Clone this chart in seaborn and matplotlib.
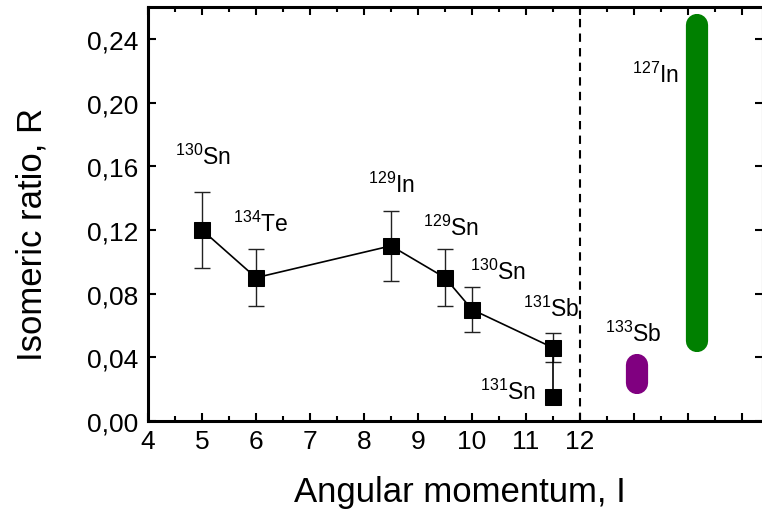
import matplotlib
matplotlib.use("Agg")
import matplotlib.pyplot as plt
import seaborn as sns
import pandas as pd
from matplotlib.ticker import MultipleLocator, FixedLocator

# ---- data ----
nuclides = ["130Sn", "134Te", "129In", "129Sn", "130Sn", "131Sb", "131Sn"]
spin = [5, 6, 8.5, 9.5, 10, 11.5, 11.5]
ratio = [0.120, 0.090, 0.110, 0.090, 0.070, 0.046, 0.015]
ratio_err = [0.024, 0.018, 0.022, 0.018, 0.014, 0.009, 0.0]

# ranges shown as thick bars (no spin value)
range_names = ["133Sb", "127In"]
range_x = [13.05, 14.16]
range_low = [0.024, 0.050]
range_high = [0.035, 0.249]
range_colors = ["#800080", "#008000"]

# label anchor positions (data coords, left/baseline)
label_x = [4.50, 5.57, 8.07, 9.09, 9.96, 10.94, 10.15]
label_y = [0.1614, 0.1193, 0.1438, 0.1168, 0.0892, 0.0659, 0.0138]
range_label_x = [12.46, 12.96]
range_label_y = [0.0502, 0.2129]

y_ticks = [0.00, 0.04, 0.08, 0.12, 0.16, 0.20, 0.24]
y_ticklabels = ["0,00", "0,04", "0,08", "0,12", "0,16", "0,20", "0,24"]
x_ticks = [4, 5, 6, 7, 8, 9, 10, 11, 12, 13, 14, 15]
x_ticklabels = ["4", "5", "6", "7", "8", "9", "10", "11", "12", "", "", ""]
boundary_x = 12

df = pd.DataFrame({"I": spin, "R": ratio, "err": ratio_err, "name": nuclides})

sns.set_style("ticks")
plt.rcParams["font.family"] = ["Liberation Sans", "DejaVu Sans"]
plt.rcParams["mathtext.fontset"] = "custom"
plt.rcParams["mathtext.rm"] = "Liberation Sans"
plt.rcParams["mathtext.it"] = "Liberation Sans:italic"
plt.rcParams["mathtext.bf"] = "Liberation Sans:bold"
for key in ["text.color", "axes.labelcolor", "xtick.color", "ytick.color", "axes.edgecolor"]:
    plt.rcParams[key] = "black"

fig = plt.figure(figsize=(7.62, 5.10), dpi=100)
ax = fig.add_axes([148 / 762, 1 - 422 / 510, 615 / 762, 414 / 510])

# error bars
err_df = df[df["err"] > 0]
ax.errorbar(err_df["I"], err_df["R"], yerr=err_df["err"], fmt="none",
            ecolor="#222222", elinewidth=1.0, capsize=6, capthick=1.0, zorder=2)

# connecting line + square markers
sns.lineplot(data=df, x="I", y="R", sort=False, estimator=None, ax=ax,
             color="black", linewidth=1.2, marker="s", markersize=11,
             markeredgecolor="black", markerfacecolor="black", zorder=3)

# range bars
for xv, lo, hi, c in zip(range_x, range_low, range_high, range_colors):
    ax.plot([xv, xv], [lo, hi], color=c, linewidth=16, solid_capstyle="round", zorder=2)

# dashed boundary
ax.axvline(boundary_x, color="black", linewidth=1.5, linestyle=(0, (4, 3)), zorder=1)

# labels
def sup_label(name):
    num = "".join(ch for ch in name if ch.isdigit())
    sym = "".join(ch for ch in name if not ch.isdigit())
    return r"$^{\mathrm{" + num + "}}$" + sym

for n, lx, ly in zip(nuclides, label_x, label_y):
    ax.text(lx, ly, sup_label(n), fontsize=16.5, ha="left", va="baseline", color="black")
for n, lx, ly in zip(range_names, range_label_x, range_label_y):
    ax.text(lx, ly, sup_label(n), fontsize=16.5, ha="left", va="baseline", color="black")

ax.set_xlim(4, 4 + 615 / 54)
ax.set_ylim(0, 0.26)

ax.xaxis.set_major_locator(FixedLocator(x_ticks))
ax.set_xticklabels(x_ticklabels)
ax.xaxis.set_minor_locator(MultipleLocator(0.5))
ax.set_yticks(y_ticks)
ax.set_yticklabels(y_ticklabels)

ax.tick_params(axis="both", which="major", direction="in", length=6, width=1.5,
               labelsize=19, top=True, right=True)
ax.tick_params(axis="x", which="minor", direction="in", length=3.5, width=1.5,
               top=True, bottom=True)
ax.tick_params(axis="x", which="major", pad=6)
ax.tick_params(axis="y", which="major", pad=7)

for s in ax.spines.values():
    s.set_linewidth(2.2)
    s.set_visible(True)
    s.set_color("black")

ax.set_xlabel("Angular momentum, I", fontsize=25)
ax.set_ylabel("Isomeric ratio, R", fontsize=25)
ax.xaxis.set_label_coords(0.507, -0.13)
ax.yaxis.set_label_coords(-0.162, 0.452)

fig.savefig("out.png", dpi=100)
